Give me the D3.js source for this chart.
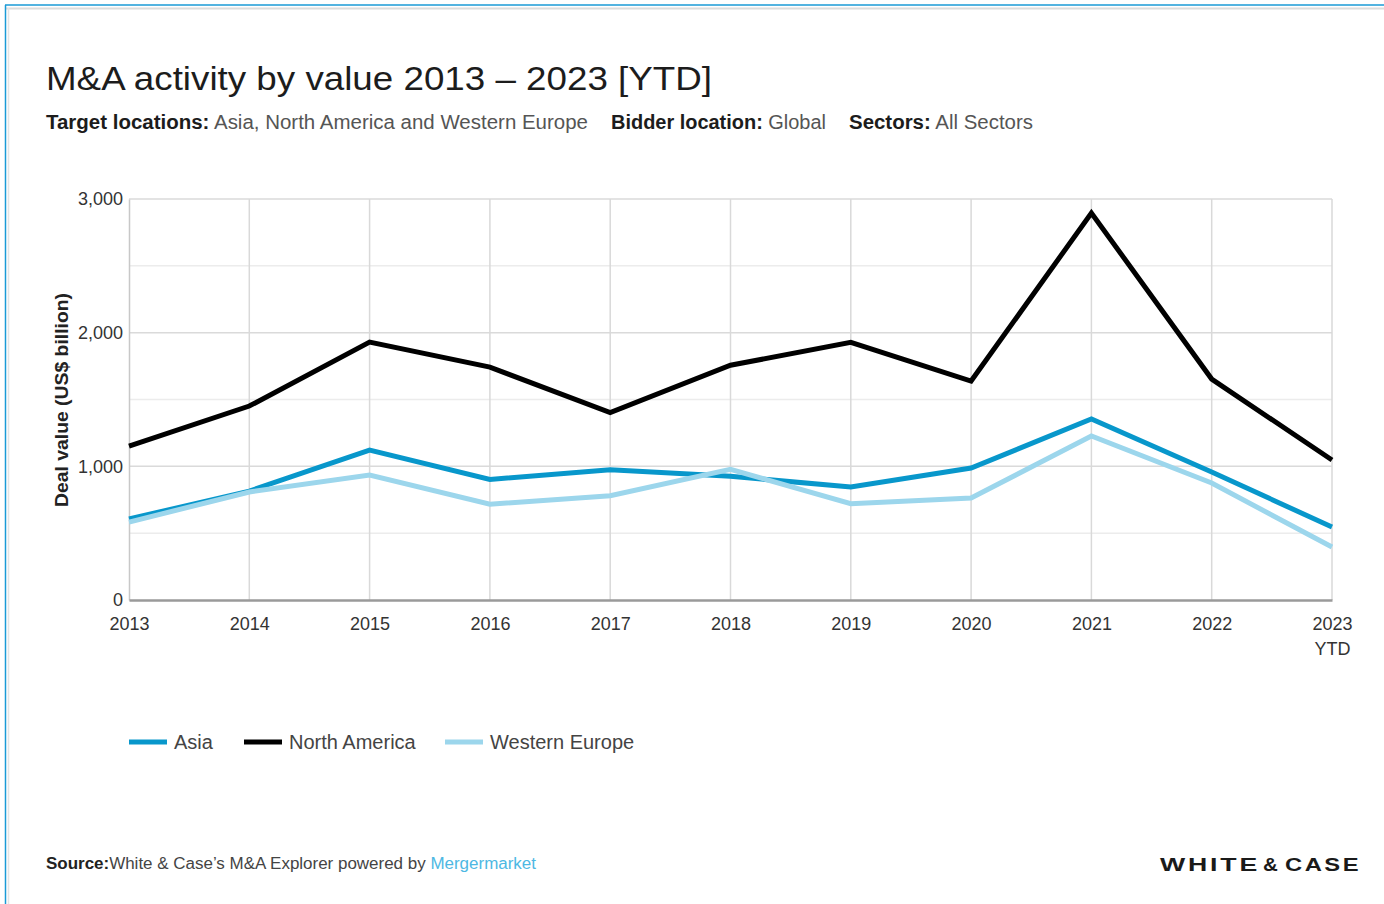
<!DOCTYPE html>
<html>
<head>
<meta charset="utf-8">
<script src="https://cdn.jsdelivr.net/npm/d3@7"></script>
<style>
  html, body { margin: 0; padding: 0; background: #fff; }
  svg { display: block; font-family: "Liberation Sans", Arial, Helvetica, sans-serif; }
</style>
</head>
<body>
<svg id="chart" width="1384" height="904"></svg>
<script>
// Years on the x axis (the last one is a partial year)
const years = ["2013", "2014", "2015", "2016", "2017", "2018", "2019", "2020", "2021", "2022", "2023"];
const yearLabels = [["2013"], ["2014"], ["2015"], ["2016"], ["2017"], ["2018"], ["2019"], ["2020"], ["2021"], ["2022"], ["2023", "YTD"]];

// Deal value, US$ billion
const asia = [606, 815, 1122, 902, 975, 925, 846, 987, 1354, 957, 546];
const northAmerica = [1152, 1451, 1930, 1742, 1403, 1756, 1928, 1638, 2895, 1653, 1047];
const westernEurope = [583, 808, 935, 717, 780, 978, 720, 763, 1227, 875, 396];

const yTicks = [0, 1000, 2000, 3000];
const yGrid = [500, 1000, 1500, 2000, 2500, 3000];

const seriesNames = ["Asia", "North America", "Western Europe"];
const seriesColors = ["#0897cb", "#000000", "#9cd6ec"];
const seriesValues = [asia, northAmerica, westernEurope];

const svg = d3.select("#chart");

// frame
svg.append("line").attr("x1", 5).attr("x2", 1384).attr("y1", 5).attr("y2", 5)
  .attr("stroke", "#1a9ad6").attr("stroke-width", 1.5);
svg.append("line").attr("x1", 5).attr("x2", 1384).attr("y1", 8.5).attr("y2", 8.5)
  .attr("stroke", "#dcdcdc").attr("stroke-width", 2);
svg.append("line").attr("x1", 5.5).attr("x2", 5.5).attr("y1", 5).attr("y2", 904)
  .attr("stroke", "#1a9ad6").attr("stroke-width", 1.5);
svg.append("line").attr("x1", 8.5).attr("x2", 8.5).attr("y1", 8).attr("y2", 904)
  .attr("stroke", "#e4e4e4").attr("stroke-width", 1.5);

// title
svg.append("text").attr("x", 46).attr("y", 90)
  .attr("font-size", 34).attr("fill", "#1c1c1c")
  .attr("textLength", 666).attr("lengthAdjust", "spacingAndGlyphs")
  .text("M&A activity by value 2013 – 2023 [YTD]");

// subtitle: three label/value pairs
const subParts = [
  { label: "Target locations:", value: " Asia, North America and Western Europe", x: 46, w: 542 },
  { label: "Bidder location:", value: " Global", x: 611, w: 215 },
  { label: "Sectors:", value: " All Sectors", x: 849, w: 184 }
];
subParts.forEach(p => {
  const t = svg.append("text").attr("x", p.x).attr("y", 129).attr("font-size", 20)
    .attr("xml:space", "preserve")
    .attr("textLength", p.w).attr("lengthAdjust", "spacingAndGlyphs");
  t.append("tspan").attr("font-weight", "bold").attr("fill", "#1c1c1c").text(p.label);
  t.append("tspan").attr("fill", "#555").text(p.value);
});

// scales
const x = d3.scalePoint().domain(years).range([129, 1332]);
const y = d3.scaleLinear().domain([0, 3000]).range([600, 199]);

// grid
const grid = svg.append("g");
grid.selectAll("line.h").data(yGrid).join("line")
  .attr("x1", 129).attr("x2", 1332)
  .attr("y1", d => y(d)).attr("y2", d => y(d))
  .attr("stroke", d => d % 1000 === 0 ? "#dadada" : "#ececec").attr("stroke-width", 1.5);
grid.selectAll("line.v").data(years.slice(1)).join("line")
  .attr("x1", d => x(d)).attr("x2", d => x(d))
  .attr("y1", y(3000)).attr("y2", y(0))
  .attr("stroke", "#d9d9d9").attr("stroke-width", 1.5);

// y axis
const yAxis = d3.axisLeft(y).tickValues(yTicks).tickSize(0).tickPadding(6).tickFormat(d3.format(","));
const gy = svg.append("g").attr("transform", "translate(129,0)").call(yAxis);
gy.select(".domain").attr("stroke", "#c8c8c8").attr("stroke-width", 1.5);
gy.selectAll("text").attr("font-size", 18).attr("fill", "#333").attr("font-family", "Liberation Sans, Arial, sans-serif");

// x axis
const xAxis = d3.axisBottom(x).tickSize(0).tickPadding(12).tickFormat(() => "");
const gx = svg.append("g").attr("transform", "translate(0,600)").call(xAxis);
gx.select(".domain").attr("stroke", "#9a9a9a").attr("stroke-width", 2.5);
gx.selectAll(".tick").each(function(d, i) {
  const t = d3.select(this).select("text").attr("font-size", 18).attr("fill", "#333")
    .attr("font-family", "Liberation Sans, Arial, sans-serif").attr("dy", 0).attr("y", 30);
  yearLabels[i].forEach((line, j) => {
    t.append("tspan").attr("x", 0).attr("dy", j === 0 ? 0 : 25).text(line);
  });
});

// y axis title
svg.append("text")
  .attr("transform", "translate(68,400) rotate(-90)")
  .attr("text-anchor", "middle").attr("font-size", 19).attr("font-weight", "bold").attr("fill", "#222")
  .attr("textLength", 214).attr("lengthAdjust", "spacingAndGlyphs")
  .text("Deal value (US$ billion)");

// lines
const line = d3.line().x((d, i) => x(years[i])).y(d => y(d));
svg.append("g").selectAll("path").data([0, 2, 1].map(i => ({ v: seriesValues[i], c: seriesColors[i] })))
  .join("path")
  .attr("d", d => line(d.v))
  .attr("fill", "none").attr("stroke", d => d.c).attr("stroke-width", 5)
  .attr("stroke-linejoin", "miter").attr("stroke-linecap", "butt");

// legend
const legendX = [129, 244, 445];
const lg = svg.append("g");
seriesNames.forEach((name, i) => {
  lg.append("line").attr("x1", legendX[i]).attr("x2", legendX[i] + 38)
    .attr("y1", 742).attr("y2", 742).attr("stroke", seriesColors[i]).attr("stroke-width", 5);
  lg.append("text").attr("x", legendX[i] + 45).attr("y", 749)
    .attr("font-size", 20).attr("fill", "#444").text(name);
});

// source
const src = svg.append("text").attr("x", 46).attr("y", 869).attr("font-size", 16).attr("fill", "#444");
src.append("tspan").attr("font-weight", "bold").attr("fill", "#222").text("Source:");
src.append("tspan").text("White & Case’s M&A Explorer powered by ");
src.append("tspan").attr("fill", "#4db8e3").text("Mergermarket");
src.attr("textLength", 490).attr("lengthAdjust", "spacingAndGlyphs");

// wordmark (wide, letter-spaced caps)
const logo = [
  { t: "WHITE", x: 1160, w: 100 },
  { t: "&", x: 1263, w: 17 },
  { t: "CASE", x: 1285, w: 76 }
];
logo.forEach(p => {
  svg.append("text").attr("x", p.x).attr("y", 871)
    .attr("font-size", 19).attr("font-weight", "bold").attr("fill", "#1a1a1a")
    .attr("letter-spacing", 2)
    .attr("textLength", p.w).attr("lengthAdjust", "spacingAndGlyphs")
    .text(p.t);
});
</script>
</body>
</html>
